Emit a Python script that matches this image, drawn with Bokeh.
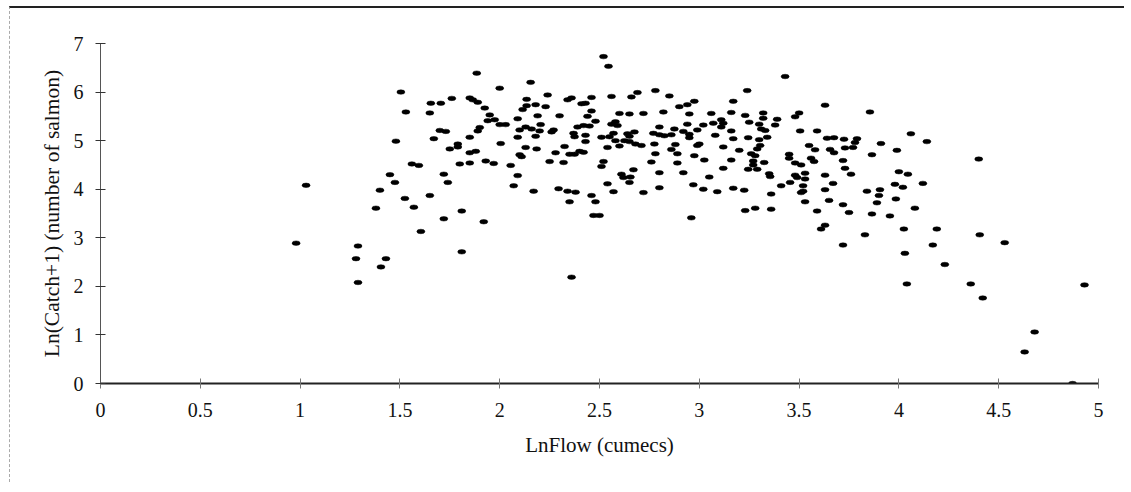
from bokeh.plotting import figure
from bokeh.models import ColumnDataSource, Range1d, FixedTicker, NumeralTickFormatter, Title
from bokeh.embed import file_html
from bokeh.resources import INLINE

# LnFlow (cumecs) values
ln_flow = [
    1.03, 0.98, 1.29, 1.28, 1.29,
    1.885, 1.505, 1.655, 1.705, 1.76, 1.85, 1.865, 1.89, 1.925, 1.95, 1.94, 1.53, 1.65, 1.70, 1.73,
    1.90, 1.89, 1.85, 1.67, 1.48, 1.79, 1.79, 1.75, 1.85, 1.88, 1.56, 1.595, 1.80, 1.85, 1.93,
    1.97, 1.45, 1.475, 1.72, 1.74, 1.40, 1.525, 1.65, 1.38, 1.57, 1.81, 1.72, 1.92, 1.605, 1.81,
    1.43, 1.405,
    2.52, 2.545, 2.155, 2.00, 2.24, 2.36, 2.34, 2.46, 2.43, 2.41, 2.135, 2.135, 2.18, 2.23, 2.115,
    2.30, 2.19, 2.46, 2.44, 2.48, 2.56, 1.975, 2.00, 2.03, 2.09, 2.13, 2.10, 2.16, 2.205, 2.20,
    2.27, 2.26, 2.39, 2.42, 2.45, 2.37, 2.375, 2.43, 2.43, 2.56, 2.51, 2.55, 2.57, 2.09, 2.18,
    2.005, 2.13, 2.185, 2.325, 2.28, 2.35, 2.375, 2.40, 2.42, 2.10, 2.11, 2.54, 2.055, 2.25, 2.32,
    2.52, 2.51, 2.09, 2.07, 2.17, 2.295, 2.34, 2.38, 2.35, 2.46, 2.48, 2.54, 2.57, 2.47, 2.50,
    2.36,
    2.69, 2.66, 2.78, 2.85, 2.90, 2.94, 2.975, 3.17, 2.60, 2.65, 2.72, 2.82, 2.95, 3.06, 3.16,
    2.58, 2.59, 2.80, 2.875, 2.94, 3.02, 3.07, 3.11, 3.12, 3.11, 2.64, 2.675, 2.65, 2.77, 2.80,
    2.825, 2.86, 2.92, 2.95, 2.95, 2.99, 3.08, 3.16, 3.17, 2.58, 2.625, 2.65, 2.60, 2.68, 2.71,
    2.775, 2.88, 2.86, 2.99, 3.00, 3.12, 2.78, 2.89, 2.975, 3.025, 2.76, 2.89, 3.16, 3.12, 2.67,
    2.61, 2.62, 2.655, 2.65, 2.80, 2.92, 3.05, 2.72, 2.80, 2.97, 3.02, 3.09, 3.17, 2.96,
    3.43, 3.24, 3.63, 3.23, 3.32, 3.32, 3.25, 3.30, 3.31, 3.33, 3.39, 3.38, 3.50, 3.48, 3.245,
    3.30, 3.34, 3.505, 3.59, 3.20, 3.305, 3.29, 3.26, 3.28, 3.27, 3.27, 3.245, 3.29, 3.325, 3.45,
    3.45, 3.48, 3.51, 3.55, 3.58, 3.56, 3.575, 3.64, 3.675, 3.725, 3.655, 3.675, 3.73, 3.77, 3.72,
    3.73, 3.76, 3.35, 3.355, 3.48, 3.49, 3.53, 3.53, 3.455, 3.41, 3.52, 3.52, 3.51, 3.53, 3.36,
    3.225, 3.63, 3.67, 3.63, 3.65, 3.72, 3.75, 3.59, 3.23, 3.28, 3.36, 3.63, 3.61, 3.72,
    3.855, 4.06, 4.14, 3.79, 3.78, 3.91, 3.865, 3.99, 4.00, 4.045, 3.98, 4.02, 4.12, 3.84, 3.905,
    3.90, 3.89, 3.985, 4.08, 3.865, 3.955, 4.025, 4.19, 3.83, 4.17, 4.03, 4.23,
    4.40, 4.405, 4.53, 4.04, 4.36, 4.42, 4.93, 4.68, 4.63, 4.87,
]

# Ln(Catch+1) values
ln_catch = [
    4.08, 2.89, 2.83, 2.57, 2.08,
    6.39, 6.00, 5.77, 5.77, 5.87, 5.88, 5.84, 5.79, 5.67, 5.53, 5.41, 5.59, 5.57, 5.21, 5.19,
    5.27, 5.20, 5.07, 5.04, 4.99, 4.93, 4.87, 4.83, 4.75, 4.78, 4.52, 4.49, 4.52, 4.54, 4.58,
    4.53, 4.30, 4.14, 4.31, 4.14, 3.98, 3.81, 3.87, 3.61, 3.63, 3.55, 3.39, 3.33, 3.13, 2.71,
    2.57, 2.40,
    6.73, 6.53, 6.20, 6.08, 5.94, 5.88, 5.84, 5.89, 5.77, 5.76, 5.85, 5.72, 5.74, 5.70, 5.64,
    5.51, 5.51, 5.61, 5.50, 5.40, 5.91, 5.43, 5.33, 5.33, 5.45, 5.28, 5.22, 5.24, 5.33, 5.20,
    5.22, 5.18, 5.28, 5.31, 5.30, 5.15, 5.08, 5.11, 4.98, 5.34, 5.07, 5.08, 5.15, 5.07, 5.09,
    4.94, 4.86, 4.83, 4.88, 4.75, 4.72, 4.72, 4.78, 4.76, 4.71, 4.67, 4.86, 4.49, 4.57, 4.55,
    4.57, 4.47, 4.28, 4.07, 3.96, 4.01, 3.96, 3.94, 3.74, 3.87, 3.74, 4.11, 3.95, 3.46, 3.46,
    2.19,
    5.99, 5.90, 6.03, 5.92, 5.70, 5.74, 5.81, 5.81, 5.56, 5.55, 5.56, 5.59, 5.55, 5.56, 5.58,
    5.39, 5.31, 5.28, 5.24, 5.34, 5.32, 5.36, 5.43, 5.36, 5.28, 5.14, 5.18, 5.09, 5.15, 5.12,
    5.10, 5.12, 5.19, 5.13, 5.06, 5.22, 5.11, 5.20, 5.04, 5.00, 5.00, 4.98, 4.89, 4.93, 4.90,
    4.93, 4.92, 4.82, 4.90, 4.93, 4.87, 4.73, 4.73, 4.69, 4.60, 4.56, 4.54, 4.60, 4.43, 4.40,
    4.31, 4.24, 4.25, 4.14, 4.34, 4.34, 4.25, 3.93, 4.03, 4.09, 4.00, 3.95, 4.02, 3.41,
    6.32, 6.03, 5.73, 5.52, 5.57, 5.46, 5.38, 5.34, 5.24, 5.21, 5.44, 5.32, 5.57, 5.49, 5.06,
    5.02, 5.07, 5.20, 5.20, 4.80, 4.90, 4.83, 4.73, 4.69, 4.58, 4.50, 4.41, 4.41, 4.55, 4.72,
    4.64, 4.54, 4.50, 4.90, 4.81, 4.64, 4.57, 5.05, 5.06, 5.03, 4.82, 4.75, 4.85, 4.86, 4.59,
    4.43, 4.31, 4.32, 4.26, 4.29, 4.24, 4.33, 4.21, 4.14, 4.07, 4.07, 3.96, 3.93, 3.74, 3.90,
    3.98, 4.29, 4.12, 3.99, 3.77, 3.68, 3.52, 3.55, 3.56, 3.61, 3.59, 3.26, 3.18, 2.85,
    5.59, 5.14, 4.98, 5.04, 4.96, 4.94, 4.71, 4.80, 4.36, 4.31, 4.10, 4.04, 4.12, 3.96, 3.99,
    3.87, 3.72, 3.80, 3.61, 3.49, 3.45, 3.18, 3.18, 3.06, 2.85, 2.68, 2.45,
    4.62, 3.06, 2.90, 2.05, 2.05, 1.76, 2.03, 1.06, 0.65, 0.00,
]

x_ticks = [0, 0.5, 1, 1.5, 2, 2.5, 3, 3.5, 4, 4.5, 5]
y_ticks = [0, 1, 2, 3, 4, 5, 6, 7]
x_title = "LnFlow (cumecs)"
y_title = "Ln(Catch+1) (number of salmon)"

FONT = "Liberation Serif"
INK = "#111111"

src = ColumnDataSource(data=dict(x=ln_flow, y=ln_catch))

p = figure(
    width=1115, height=476,
    x_range=Range1d(0, 5), y_range=Range1d(0, 7),
    output_backend="svg", toolbar_location=None,
    min_border_left=90, min_border_right=27,
    min_border_top=35, min_border_bottom=101,
    background_fill_color="white", border_fill_color="white",
)
p.margin = (6, 0, 0, 9)
p.outline_line_color = None
p.xgrid.visible = False
p.ygrid.visible = False

p.ellipse(x="x", y="y", width=8, height=4.5, width_units="screen", height_units="screen",
          fill_color="black", line_color="black", line_width=0.5, source=src)

p.xaxis.ticker = FixedTicker(ticks=x_ticks)
p.yaxis.ticker = FixedTicker(ticks=y_ticks)
p.xaxis.formatter = NumeralTickFormatter(format="0.[0]")
p.yaxis.formatter = NumeralTickFormatter(format="0")
p.xaxis.minor_tick_line_color = None
p.yaxis.minor_tick_line_color = None

for ax in (p.xaxis, p.yaxis):
    ax.major_tick_in = 5
    ax.major_tick_out = 5
    ax.major_label_text_font = FONT
    ax.major_label_text_font_size = "20px"
    ax.major_label_text_color = INK
    ax.axis_label_text_font = FONT
    ax.axis_label_text_font_style = "normal"
    ax.axis_label_text_color = INK

p.xaxis.axis_label = x_title
p.xaxis.axis_label_text_font_size = "21px"
p.xaxis.axis_line_width = 2
p.xaxis.axis_line_color = "#222222"
p.xaxis.major_tick_line_color = "#777777"
p.yaxis.axis_line_width = 1
p.yaxis.axis_line_color = "#555555"
p.yaxis.major_tick_line_color = "#333333"
p.xaxis.major_label_standoff = 14
p.yaxis.major_label_standoff = 12
p.xaxis.axis_label_standoff = 13

# y-axis title as a left-side Title
ytitle = Title(text=y_title, align="center", standoff=14,
               text_font=FONT, text_font_size="21.5px", text_font_style="normal",
               text_color=INK)
p.add_layout(ytitle, "left")

p.styles = {"border-top": "2px solid #222222", "border-left": "1px dashed #aaaaaa"}

open("out.html", "w").write(file_html(p, INLINE))
